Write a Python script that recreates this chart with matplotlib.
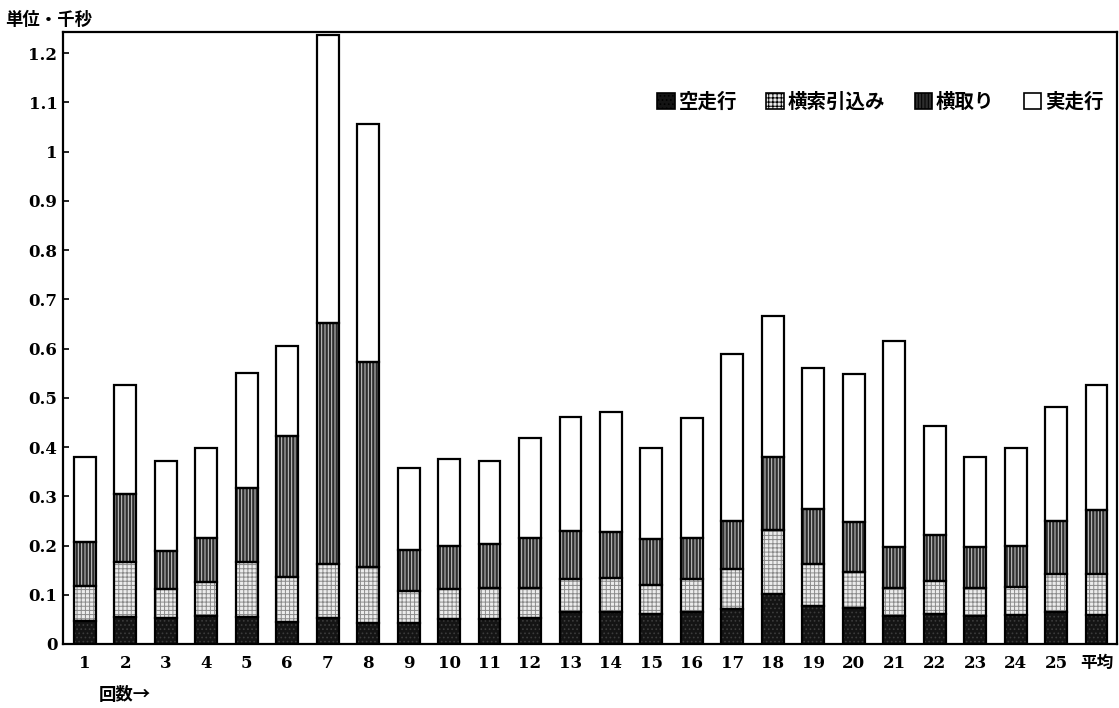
import matplotlib
matplotlib.use("Agg")
import matplotlib.pyplot as plt
import numpy as np

plt.rcParams['font.family'] = ['Noto Sans CJK JP', 'DejaVu Sans']
plt.rcParams['font.weight'] = 'bold'
plt.rcParams['hatch.linewidth'] = 0.7

# Data (unit: thousand seconds)
categories = [str(i) for i in range(1, 26)] + ['平均']
idle_run = [0.047, 0.055, 0.052, 0.057, 0.055, 0.045, 0.053, 0.043, 0.043, 0.051,
            0.051, 0.053, 0.064, 0.066, 0.060, 0.065, 0.072, 0.102, 0.077, 0.074,
            0.057, 0.060, 0.057, 0.059, 0.066, 0.059]
pull_in = [0.071, 0.112, 0.059, 0.068, 0.112, 0.091, 0.110, 0.114, 0.065, 0.061,
           0.063, 0.061, 0.067, 0.069, 0.059, 0.068, 0.080, 0.129, 0.085, 0.072,
           0.057, 0.068, 0.057, 0.057, 0.076, 0.083]
side_take = [0.089, 0.138, 0.078, 0.090, 0.149, 0.287, 0.489, 0.416, 0.082, 0.088,
             0.090, 0.102, 0.099, 0.093, 0.094, 0.083, 0.098, 0.148, 0.113, 0.101,
             0.082, 0.093, 0.082, 0.083, 0.108, 0.130]
actual_run = [0.172, 0.221, 0.183, 0.184, 0.235, 0.183, 0.584, 0.484, 0.167, 0.175,
              0.168, 0.203, 0.231, 0.244, 0.186, 0.244, 0.339, 0.288, 0.285, 0.301,
              0.420, 0.222, 0.184, 0.199, 0.232, 0.254]
series_names = ['空走行', '横索引込み', '横取り', '実走行']

# (facecolor, hatch, hatch colour)
styles = [
    ('#141414', '....', '#3c3c3c'),
    ('#ececec', '++++', '#8a8a8a'),
    ('#2e2e2e', '|||||', '#d0d0d0'),
    ('white', None, 'white'),
]

num_font = ['DejaVu Serif', 'Noto Sans CJK JP']

fig = plt.figure(figsize=(11.19, 7.08), dpi=100)
ax = fig.add_axes([0.0563, 0.0904, 0.9417, 0.8644])

x = np.arange(1, len(categories) + 1)
width = 0.54
bottom = np.zeros(len(categories))
handles = []
for vals, name, (fc, hatch, hc) in zip([idle_run, pull_in, side_take, actual_run],
                                       series_names, styles):
    vals = np.array(vals)
    ax.bar(x, vals, width, bottom=bottom, color=fc, hatch=hatch,
           edgecolor=hc, linewidth=0, zorder=2)
    ax.bar(x, vals, width, bottom=bottom, facecolor='none',
           edgecolor='black', linewidth=1.6, zorder=3)
    handles.append(plt.Rectangle((0, 0), 1, 1, facecolor=fc, hatch=hatch,
                                 edgecolor='black', linewidth=1.2))
    bottom += vals

ax.set_xlim(0.46, 26.5)
ax.set_ylim(0, 1.243)
ax.set_xticks(x)
ax.set_xticklabels(categories, fontsize=12, fontweight='bold', family=num_font)
ax.tick_params(axis='x', length=0, pad=8)
yt = np.round(np.arange(0, 1.21, 0.1), 1)
ax.set_yticks(yt)
ax.set_yticklabels(['0' if v == 0 else ('1' if v == 1 else f'{v:g}') for v in yt],
                   fontsize=12, fontweight='bold', family=num_font)
ax.tick_params(axis='y', direction='in', length=4, width=1.2, pad=4)
for s in ax.spines.values():
    s.set_linewidth(1.6)

leg = ax.legend(handles, series_names, ncol=4, loc='upper right',
                bbox_to_anchor=(1.004, 0.93), frameon=False,
                handlelength=0.9, handleheight=0.9, handletextpad=0.2,
                columnspacing=1.5, prop={'size': 14, 'weight': 'bold'})

fig.text(0.005, 0.972, '単位・千秒', fontsize=12.5, fontweight='bold',
         ha='left', va='center')
fig.text(0.088, 0.018, '回数→', fontsize=12.5, fontweight='bold',
         ha='left', va='center')

fig.savefig('out.png', dpi=100)
